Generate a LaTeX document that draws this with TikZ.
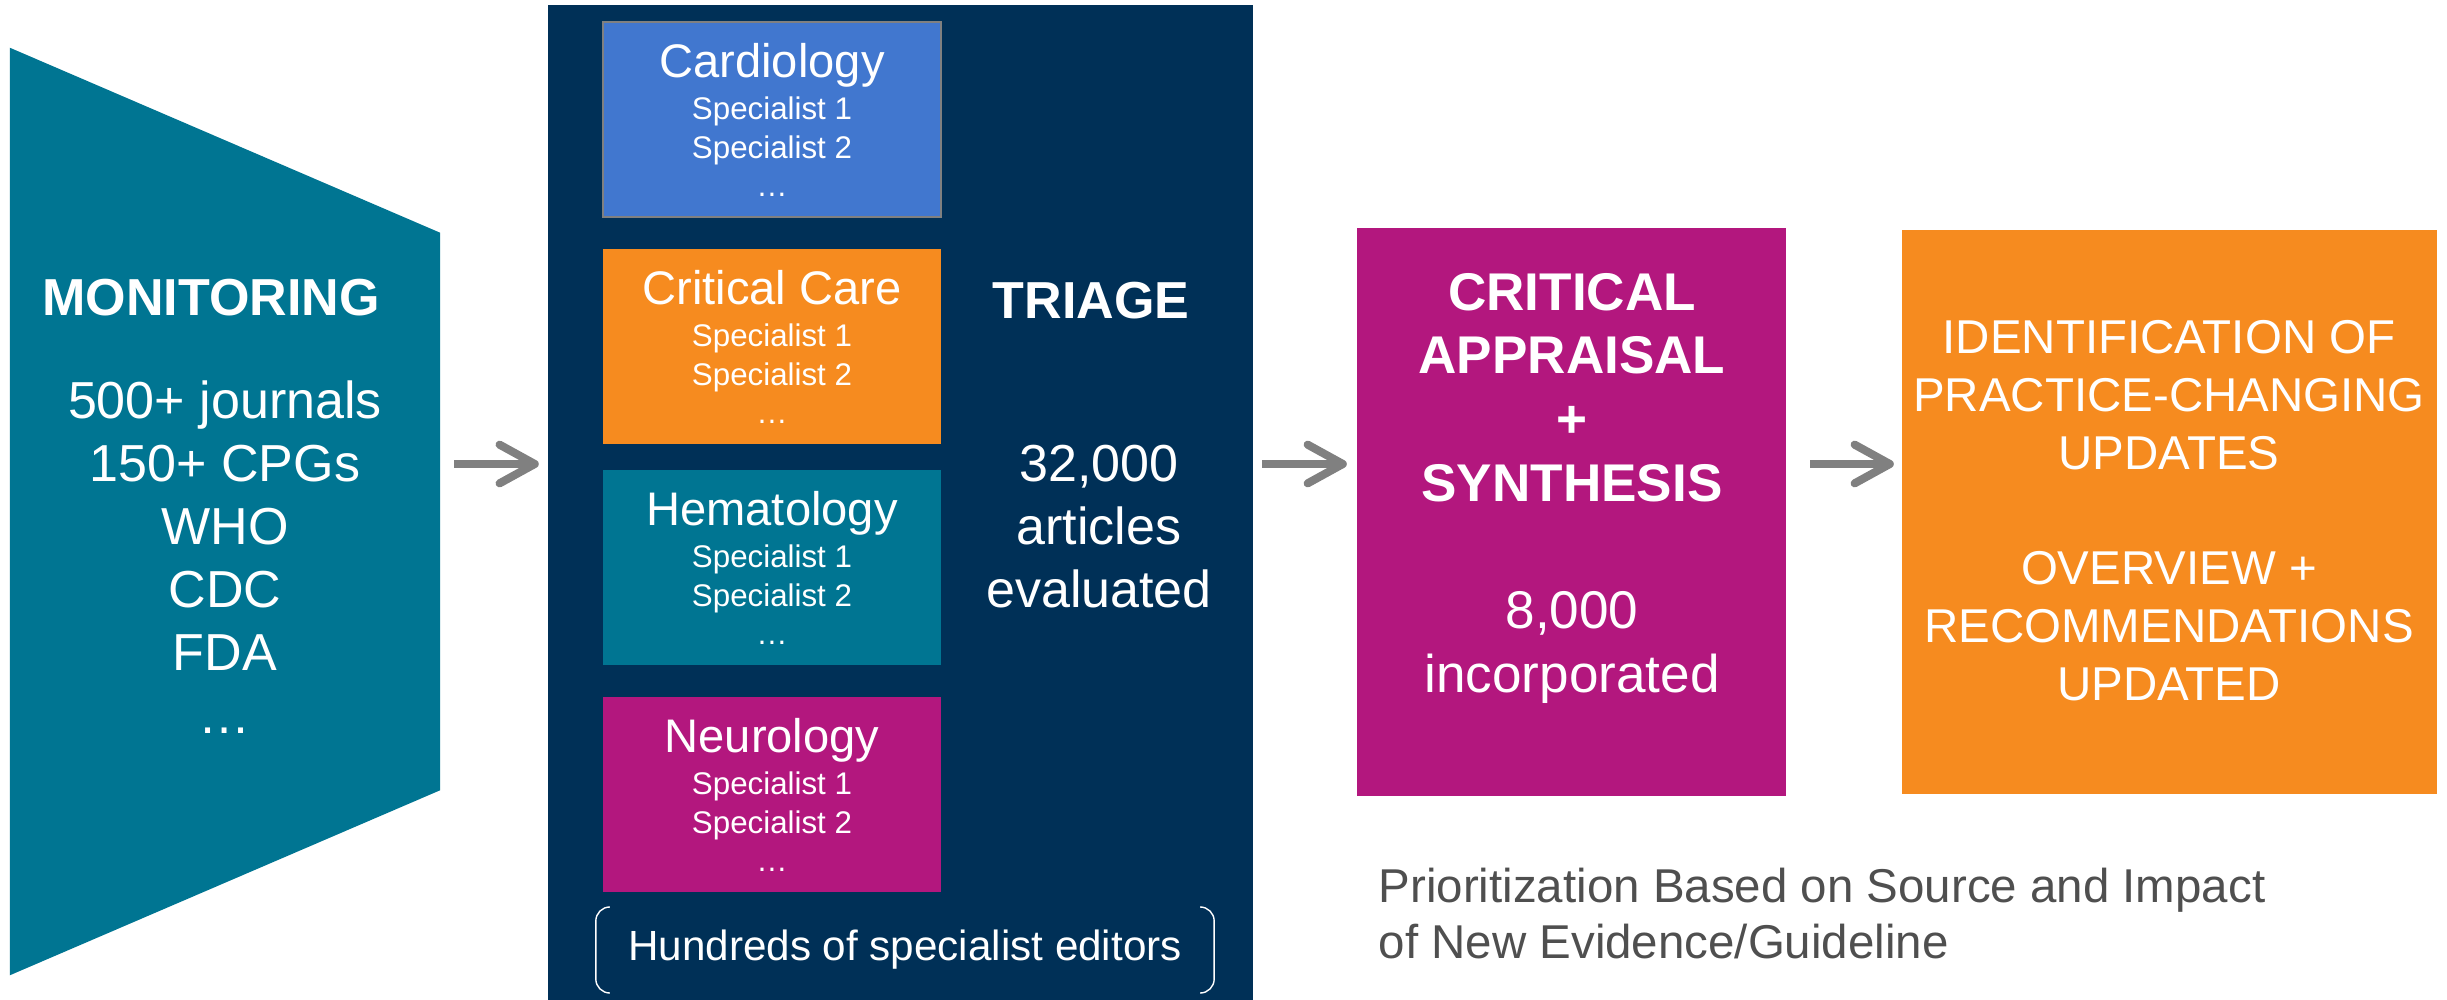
\documentclass[tikz,border=0pt]{standalone}
\usepackage{fontspec}
\setmainfont{Liberation Sans}
\usepackage{tikz}
\usetikzlibrary{arrows.meta,calc,positioning}
\definecolor{triagenavy}{HTML}{003057}
\definecolor{monteal}{HTML}{007592}
\definecolor{cardblue}{HTML}{4177CF}
\definecolor{careorange}{HTML}{F68B1F}
\definecolor{neuromagenta}{HTML}{B3177E}
\definecolor{arrowgray}{HTML}{808080}
\definecolor{notegray}{HTML}{4F4F4F}
\tikzset{panel/.style = {rectangle, inner sep=0pt, outer sep=0pt}}
\tikzset{specbox/.style = {panel, minimum width=3.38cm, minimum height=1.95cm}}
\tikzset{bigtext/.style = {text=white, inner sep=0pt, anchor=base, align=center, font=\fontsize{14.8pt}{17.9pt}\selectfont}}
\tikzset{spectitle/.style = {text=white, inner sep=0pt, anchor=base, font=\fontsize{13.4pt}{16pt}\selectfont}}
\tikzset{specline/.style = {text=white, inner sep=0pt, anchor=base, align=center, font=\fontsize{8.9pt}{10.95pt}\selectfont}}
\tikzset{flow/.style={arrowgray, line width=2.3pt, -{Straight Barb[length=10pt,width=11pt,round]}}}

\begin{document}
\begin{tikzpicture}[x=0.01cm, y=-0.01cm]
	\useasboundingbox (0,0) rectangle (2447,1000);
	\coordinate (flowline) at (0,464);
	% monitoring
	\node[panel, minimum width=4.3cm, minimum height=9.27cm] (mon) at (225,511.5) {};
	\fill[monteal] (mon.north west) -- ($(mon.north east)+(0,185)$) -- ($(mon.south east)+(0,-185)$) -- (mon.south west) -- cycle;
	\node[bigtext, font=\fontsize{14.8pt}{17.9pt}\selectfont\bfseries] (montitle) at (211,315) {MONITORING};
	\node[bigtext] (monlist) at (225,733) {500+ journals\\150+ CPGs\\WHO\\CDC\\FDA\\…};
	% triage
	\node[panel, fill=triagenavy, minimum width=7.05cm, minimum height=9.95cm] (tri) at (900.5,502.5) {};
	\node[specbox, fill=cardblue, draw=arrowgray, line width=0.4pt] (card) at (772,119.5) {};
	\node[spectitle] at ($(card.north)+(0,56)$) {Cardiology};
	\node[specline] at ($(card.north)+(0,175)$) {Specialist 1\\Specialist 2\\…};
	\node[specbox, fill=careorange] (care) at (772,346.5) {};
	\node[spectitle] at ($(care.north)+(0,56)$) {Critical Care};
	\node[specline] at ($(care.north)+(0,175)$) {Specialist 1\\Specialist 2\\…};
	\node[specbox, fill=monteal] (hema) at (772,567.5) {};
	\node[spectitle] at ($(hema.north)+(0,56)$) {Hematology};
	\node[specline] at ($(hema.north)+(0,175)$) {Specialist 1\\Specialist 2\\…};
	\node[specbox, fill=neuromagenta] (neuro) at (772,794.5) {};
	\node[spectitle] at ($(neuro.north)+(0,56)$) {Neurology};
	\node[specline] at ($(neuro.north)+(0,175)$) {Specialist 1\\Specialist 2\\…};
	\node[bigtext, font=\fontsize{14.8pt}{17.9pt}\selectfont\bfseries] (tritle) at (1091,318) {TRIAGE};
	\node[bigtext] (tricount) at (1099,607) {32,000\\articles\\evaluated};
	\node[panel, text=white, minimum width=6.18cm, minimum height=0.86cm, font=\fontsize{12pt}{14pt}\selectfont] (editors) at (905,950) {Hundreds of specialist editors};
	\draw[white, line width=0.4pt, rounded corners=4pt] ($(editors.north west)+(14,0)$) -- (editors.north west) -- (editors.south west) -- ($(editors.south west)+(14,0)$);
	\draw[white, line width=0.4pt, rounded corners=4pt] ($(editors.north east)+(-14,0)$) -- (editors.north east) -- (editors.south east) -- ($(editors.south east)+(-14,0)$);
	% appraisal and updates
	\node[panel, fill=neuromagenta, minimum width=4.29cm, minimum height=5.68cm] (appr) at (1571.5,512) {};
	\node[bigtext, font=\fontsize{15.1pt}{18.1pt}\selectfont] (apprtext) at (1572,692) {\textbf{CRITICAL}\\\textbf{APPRAISAL}\\\textbf{+}\\\textbf{SYNTHESIS}\\[18.1pt]8,000\\incorporated};
	\node[panel, fill=careorange, minimum width=5.35cm, minimum height=5.64cm] (upd) at (2169.5,512) {};
	\node[bigtext, font=\fontsize{13.5pt}{16.4pt}\selectfont] (updtext) at (2169,700) {IDENTIFICATION OF\\PRACTICE-CHANGING\\UPDATES\\[16.4pt]OVERVIEW +\\RECOMMENDATIONS\\UPDATED};
	\node[text=notegray, inner sep=0pt, anchor=base west, align=left, font=\fontsize{13.5pt}{15.9pt}\selectfont] (note) at (1378,958) {Prioritization Based on Source and Impact\\of New Evidence/Guideline};
	% arrows
	\draw[flow, shorten <=0.14cm, shorten >=0.09cm] (mon.east |- flowline) -- (tri.west |- flowline);
	\draw[flow, shorten <=0.09cm, shorten >=0.10cm] (tri.east |- flowline) -- (appr.west |- flowline);
	\draw[flow, shorten <=0.24cm, shorten >=0.08cm] (appr.east |- flowline) -- (upd.west |- flowline);
\end{tikzpicture}
\end{document}
